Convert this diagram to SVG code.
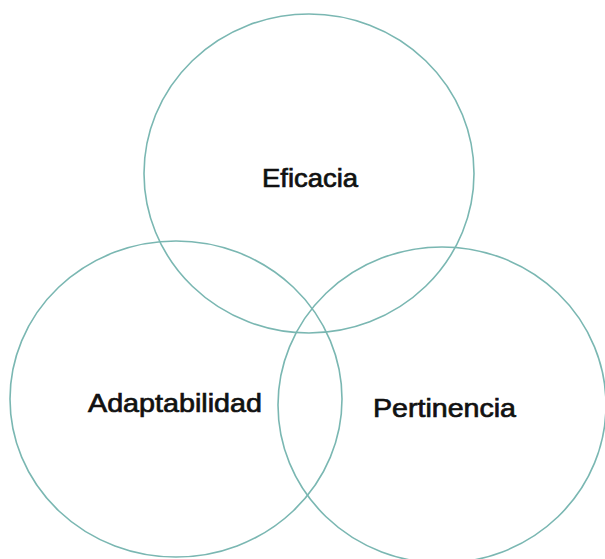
<svg xmlns="http://www.w3.org/2000/svg" width="605" height="559" viewBox="0 0 605 559">
<style>
.c{fill:none;stroke:#7ab7b2;stroke-width:1.6}
.t{font-family:"Liberation Sans",Arial,sans-serif;font-size:26px;fill:#111;stroke:#111;stroke-width:0.7;text-anchor:middle}
</style>
<rect width="605" height="559" fill="#fff"/>
<g id="eficacia"><ellipse class="c" cx="309" cy="173.5" rx="165" ry="159.5"/><text class="t" x="310" y="187" textLength="96" lengthAdjust="spacingAndGlyphs">Eficacia</text></g>
<g id="adaptabilidad"><ellipse class="c" cx="176" cy="399" rx="166" ry="158"/><text class="t" x="175" y="412" textLength="174" lengthAdjust="spacingAndGlyphs">Adaptabilidad</text></g>
<g id="pertinencia"><ellipse class="c" cx="442" cy="405" rx="164" ry="158"/><text class="t" x="444.5" y="417" textLength="143" lengthAdjust="spacingAndGlyphs">Pertinencia</text></g>
<g id="connectors"/>
</svg>
